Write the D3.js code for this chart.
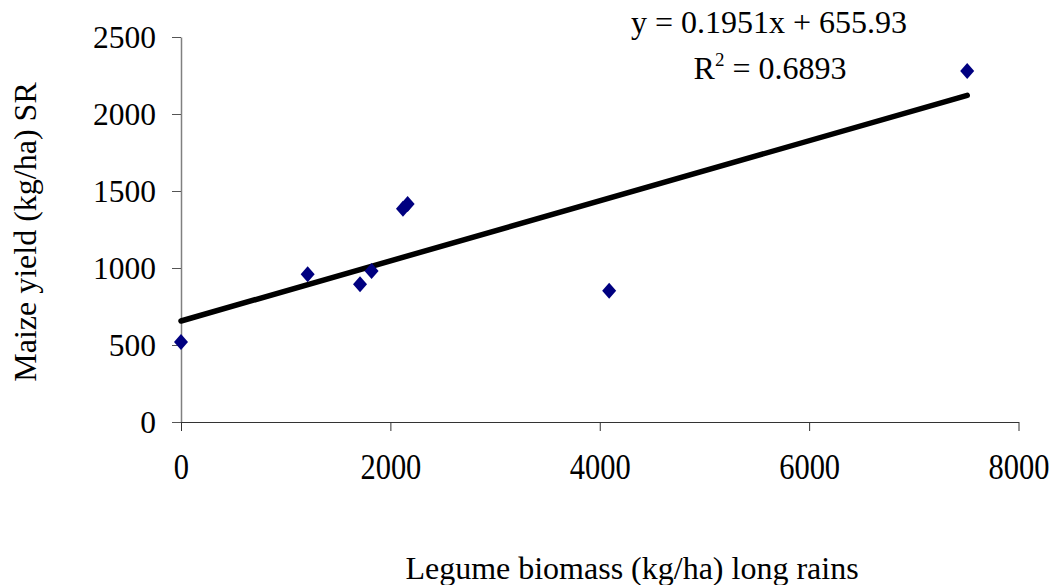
<!DOCTYPE html>
<html>
<head>
<meta charset="utf-8">
<script src="https://cdn.jsdelivr.net/npm/d3@7"></script>
<style>
  html, body { margin: 0; padding: 0; background: #fff; }
  svg { display: block; font-family: "Liberation Serif", "Times New Roman", serif; }
</style>
</head>
<body>
<svg id="chart" width="1056" height="585"></svg>
<script>
// Legume biomass (long rains) vs. maize yield (short rains)
const biomass = [0, 1210, 1710, 1820, 2120, 2165, 4090, 7510];
const maizeYield = [520, 960, 895, 980, 1385, 1415, 853, 2280];
const xTicks = [0, 2000, 4000, 6000, 8000];
const yTicks = [0, 500, 1000, 1500, 2000, 2500];
const slope = 0.1951;
const intercept = 655.93;
const equationText = "y = 0.1951x + 655.93";
const rSquaredText = "= 0.6893";

const svg = d3.select("#chart");
const x = d3.scaleLinear().domain([0, 8000]).range([181, 1018.5]);
const y = d3.scaleLinear().domain([0, 2500]).range([422, 37]);

// Y axis
const yAxis = svg.append("g")
  .attr("transform", `translate(${x(0)},0)`)
  .call(d3.axisLeft(y).tickValues(yTicks).tickSize(9).tickSizeOuter(0).tickPadding(16).tickFormat(d3.format("d")));
yAxis.select(".domain").attr("stroke", "#808080").attr("stroke-width", 1.5);
yAxis.selectAll(".tick line").attr("stroke", "#555");
yAxis.selectAll(".tick text")
  .attr("font-family", "Liberation Serif, serif")
  .attr("font-size", 31.5)
  .attr("fill", "#000");

// X axis
const xAxis = svg.append("g")
  .attr("transform", `translate(0,${y(0)})`)
  .call(d3.axisBottom(x).tickValues(xTicks).tickSize(9).tickSizeOuter(0).tickFormat(d3.format("d")));
xAxis.select(".domain").attr("stroke", "#333").attr("stroke-width", 1.2);
xAxis.selectAll(".tick line").attr("stroke", "#333");
xAxis.selectAll(".tick text")
  .attr("font-family", "Liberation Serif, serif")
  .attr("font-size", 30.5)
  .attr("fill", "#000")
  .attr("dy", null)
  .attr("y", 0)
  .attr("transform", "translate(0,57) scale(1,1.15)");

// Trend line over the data's x range
const xMax = d3.max(biomass);
svg.append("line")
  .attr("x1", x(0)).attr("y1", y(intercept))
  .attr("x2", x(xMax)).attr("y2", y(slope * xMax + intercept))
  .attr("stroke", "#000").attr("stroke-width", 5.5).attr("stroke-linecap", "round");

// Points as diamonds
const pts = biomass.map((b, i) => ({ b, m: maizeYield[i] }));
svg.append("g").selectAll("path").data(pts).join("path")
  .attr("transform", d => `translate(${x(d.b)},${y(d.m)})`)
  .attr("d", "M0,-8L7,0L0,8L-7,0Z")
  .attr("fill", "#000080");

// Regression equation
svg.append("text")
  .attr("x", 769).attr("y", 33)
  .attr("text-anchor", "middle").attr("font-size", 32).attr("fill", "#000")
  .text(equationText);
const r2 = svg.append("text")
  .attr("x", 770).attr("y", 79)
  .attr("text-anchor", "middle").attr("font-size", 32).attr("fill", "#000");
r2.append("tspan").text("R");
r2.append("tspan").attr("font-size", 19).attr("dy", -13).text("2");
r2.append("tspan").attr("dy", 13).text(" " + rSquaredText);

// Axis titles
svg.append("text")
  .attr("x", 632).attr("y", 579)
  .attr("text-anchor", "middle").attr("font-size", 32).attr("fill", "#000")
  .text("Legume biomass (kg/ha) long rains");
svg.append("text")
  .attr("transform", "translate(36,232) rotate(-90)")
  .attr("text-anchor", "middle").attr("font-size", 32).attr("fill", "#000")
  .text("Maize yield (kg/ha) SR");
</script>
</body>
</html>
